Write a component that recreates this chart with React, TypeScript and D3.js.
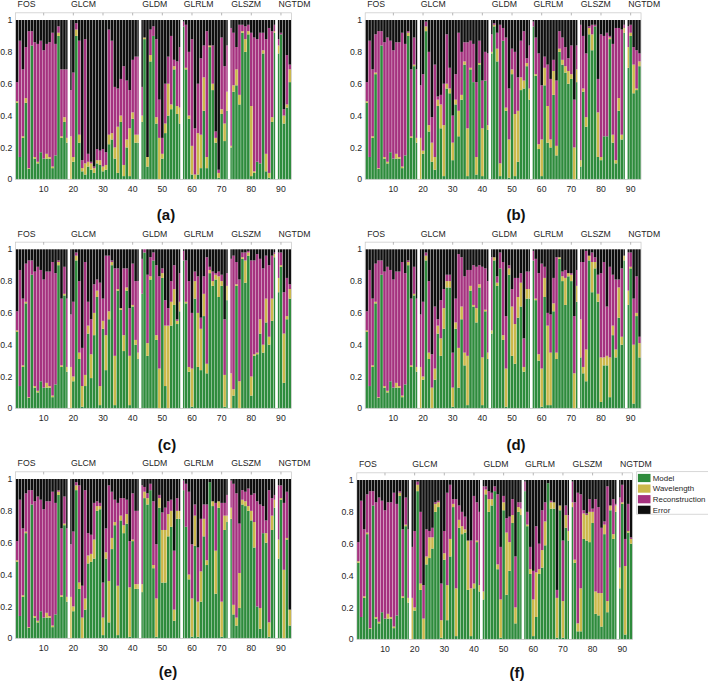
import React from 'react';
import * as d3 from 'd3';

// feature groups (radiomics classes) and their number of features
const GROUPS = ['FOS', 'GLCM', 'GLDM', 'GLRLM', 'GLSZM', 'NGTDM'];
const GROUP_SIZES = [18, 24, 14, 16, 16, 5];
const SERIES = ['Model', 'Wavelength', 'Reconstruction', 'Error'];
const COLORS = ['#2e8b3c', '#cbb84b', '#a5327f', '#0e0e0e'];
const X_TICKS = [10, 20, 30, 40, 50, 60, 70, 80, 90];
const Y_TICKS = [0, 0.2, 0.4, 0.6, 0.8, 1];

// ---- panel (a) ----
const aModel = [
  .48, .14, .26, .48, .065, .84, .13, .10, .17, .13, .13, .13, .07, .15, .90, .26, .36, .23,
  0, .11, .90, .23, .05, .03, .08, .06, .04, .10, .09, .05, .06, .22, .25, .13, .04, .36, .02, .20, .02, .38, .23, .23,
  .36, .88, .08, .74, .90, .35, 0, .13, .29, .40, .44, .69, .41, .35,
  .96, .69, .38, .03, 0, .03, .07, .43, .07, .83, .56, .23, .01, .41, .24, .43,
  .20, .55, .59, .47, .92, .80, .91, .02, .04, .11, .10, .79, .05, .01, .36, .92,
  .79, .91, .35, .45, .61,
];
const aWave = [
  .01, 0, .01, .03, .005, 0, .01, .01, 0, 0, .03, .01, .01, 0, .02, .01, .03, .03,
  .27, .03, .04, .05, .02, .07, .03, .04, .03, .02, .03, .03, .03, .06, .04, .07, .29, .04, .07, .05, .30, .04, .05, .05,
  .04, .01, .06, .04, 0, .04, .26, .03, .06, .20, .03, .02, .05, .10,
  0, .01, .02, .18, .03, .26, .21, .21, .07, .01, .04, .03, .03, .03, .11, .12,
  .01, .04, .10, .06, .01, .08, .02, .44, .01, 0, 0, .02, .11, .03, .03, .01,
  .05, 0, .05, .02, .08,
];
const aError = [
  .39, .13, .31, .17, .07, .07, .14, .15, .13, .19, .15, .14, .08, .15, .04, .31, .31, .31,
  .44, .33, .02, .13, .88, .12, .84, .89, .92, .81, .82, .81, .83, .06, .13, .42, .43, .37, .29, .38, .44, .25, .23, .23,
  .42, .11, .86, .06, .04, .12, .50, .74, .40, .23, .10, .25, .26, .17,
  .01, .03, .20, .12, .68, .40, .24, .16, .07, .16, .16, .70, .94, .11, .29, .16,
  .05, .08, .17, .03, .03, .04, .03, .08, .11, .12, .08, .08, .12, .05, .07, .03,
  .12, .08, .56, .22, .28,
];

// FOS block shared by panels (b)-(f)
const fosModel = [.48, .14, .26, .66, .065, .84, .13, .10, .17, .13, .13, .13, .07, .15, .90, .26, .71, .23];
const fosWave = [.01, 0, .01, .01, .005, 0, .01, .01, 0, 0, .03, .01, .01, 0, .02, .01, .01, .03];
const fosError = [.39, .13, .31, .09, .07, .07, .14, .11, .13, .19, .14, .14, .08, .15, .07, .31, .11, .31];

// ---- panel (b) ----
const bModel = [
  ...fosModel,
  0, .16, .93, .30, .11, .06, .46, .32, .02, .57, .54, .12, .47, .27, .50, .72, .02, .69, .61, .03, .72, .02, .62, .31,
  .79, .96, .74, .02, .87, .43, .01, .66, .02, .11, .56, .57, .71, .50,
  .96, .65, .19, .02, .59, .23, .20, .53, .15, .80, .72, .67, .60, .63, 0, .61,
  .08, .55, .33, .91, .81, .96, .14, .12, .27, .27, .88, .23, .10, .43, .25, .92,
  .70, .90, .54, .56, .71,
];
const bWave = [
  ...fosWave,
  .26, .02, .03, .04, .12, .08, .04, .15, .32, .03, .03, .11, .03, .16, .03, .02, .30, .01, 0, .11, .01, .30, 0, .03,
  .01, .01, .08, .08, 0, .02, .24, .03, .39, .32, .08, .05, .02, .07,
  0, .01, .03, .23, .11, .23, .05, .15, .06, .02, .03, .04, .08, .03, .20, .08,
  .04, .02, .06, .04, .10, 0, .28, .02, 0, 0, .01, .05, .02, .08, .03, .03,
  .13, .02, .18, .01, .03,
];
const bError = [
  ...fosError,
  .41, .34, .01, .20, .61, .28, .48, .47, .40, .09, .30, .60, .34, .08, .20, .14, .14, .13, .15, .39, .13, .38, .20, .21,
  .09, .02, .08, .03, .05, .11, .43, .18, .20, .36, .13, .07, .24, .16,
  .01, .11, .21, .41, .23, .28, .37, .25, .38, .07, .11, .17, .24, .16, .50, .16,
  .03, .10, .21, .04, .03, .03, .37, .09, .10, .08, .10, .15, .05, .05, .06, .03,
  .04, .03, .17, .19, .21,
];

// ---- panel (c) ----
const cModel = [
  ...fosModel,
  0, .17, .93, .31, .01, .14, .47, .19, .46, .70, .02, .50, .24, .56, .90, .02, .74, .62, .36, .74, .02, .64, .40, .31,
  .72, .98, .33, .81, .93, .43, 0, .82, .14, 0, .52, .65, .53, .61,
  .93, .66, .23, .01, .69, .26, .24, .58, .22, .85, .77, .81, .70, .77, .01, .68,
  0, .08, .77, 0, .94, .79, .96, .08, .33, .34, .47, .35, .54, .40, .55, .95,
  .73, .89, .16, .56, .69,
];
const cWave = [
  ...fosWave,
  .26, .03, .03, .04, .13, .07, .05, .15, .14, .04, .12, .05, .22, .05, .02, .31, .01, .01, .10, .02, .31, .01, .03, .04,
  0, 0, .08, .02, 0, .03, .25, .03, .38, .52, .15, .10, .02, .06,
  0, .01, .03, .24, .11, .34, .26, .14, .06, .02, .03, .03, .13, .03, .20, .09,
  .22, .04, .01, .17, .01, .14, .02, .12, .01, .01, .09, .05, .15, .05, .14, .02,
  .09, .01, .31, .02, .06,
];
const cError = [
  ...fosError,
  .41, .33, .02, .20, .62, .08, .33, .44, .22, .19, .21, .31, .04, .04, .07, .12, .12, .37, .12, .12, .37, .09, .20, .20,
  .06, 0, .16, .05, .02, .10, .17, .12, .32, .37, .20, .10, .44, .15,
  .01, .07, .20, .40, .14, .17, .43, .17, .05, .11, .14, .15, .14, .16, .44, .15,
  .06, .04, .08, .19, .02, .02, .01, .07, .07, .03, .06, .12, .04, .10, .04, .02,
  .02, .02, .27, .18, .22,
];

// ---- panel (d) ----
const dModel = [
  ...fosModel,
  0, .18, .93, .31, 0, .18, .47, .33, .50, .76, .76, .01, .50, .13, .56, .27, .02, .74, .64, .54, .76, .02, .61, .31,
  .47, .93, .77, .88, .43, .01, .84, .33, .28, .57, .64, .23, .69, .69,
  .93, .68, .30, .01, .70, .02, .02, .61, .31, .94, .80, .65, .83, .80, 0, .67,
  .32, .22, .17, .93, .73, .88, .67, .04, .27, .27, .07, .46, .32, .57, .40, .93,
  .65, .88, .03, .58, .32,
];
const dWave = [
  ...fosWave,
  .26, .02, .03, .04, .13, .07, .05, .11, .13, .04, .04, .12, .04, .25, .08, .08, .31, .03, .01, .09, .02, .30, .01, .04,
  .02, .02, .02, 0, .03, .24, .04, .31, .25, .13, .15, .03, .06, .06,
  0, .01, .04, .24, .12, .50, .33, .05, .04, .01, .03, .17, .02, .04, .22, .10,
  .24, .04, .20, .03, .19, .04, .05, .28, .05, .06, .25, .06, .05, .19, .05, .03,
  .09, .01, .37, .02, .09,
];
const dError = [
  ...fosError,
  .41, .33, .02, .20, .66, .36, .44, .32, .25, .16, .16, .65, .31, .03, .05, .17, .13, .13, .10, .11, .10, .11, .12, .20,
  .05, .05, .17, .02, .08, .42, .10, .25, .18, .18, .15, .56, .14, .14,
  .01, .06, .15, .09, .11, .40, .41, .18, .05, .05, .14, .13, .15, .15, .42, .13,
  .08, .08, .01, .04, .02, .05, .16, .15, .08, .36, .11, .16, .19, .19, .12, .04,
  .02, .02, .31, .17, .55,
];

// ---- panel (e) ----
const eModel = [
  ...fosModel,
  0, .17, .93, .31, 0, .18, .47, .48, .50, .80, .81, .02, .50, .10, .56, .71, .02, .74, .66, .72, .01, .61, .31, .31,
  .29, .88, .84, .93, .44, .01, .82, .35, .35, .64, .70, .11, .75, .75,
  .93, .70, .37, .01, .58, .01, .23, .64, .46, .98, .83, .28, .82, .01, .68, .73,
  .75, .15, .08, .19, .84, .83, .80, .74, .57, .20, .06, .66, .60, .01, .68, .82,
  .50, .87, 0, .62, .08,
];
const eWave = [
  ...fosWave,
  .26, .03, .03, .04, .13, .07, .05, .05, .12, .03, .02, .11, .04, .26, .07, .02, .31, .03, .05, .06, .31, .01, .03, .03,
  .05, .04, .04, 0, .02, .24, .06, .33, .33, .14, .10, .07, .05, .05,
  0, 0, .03, .24, .19, .22, .19, .11, .03, 0, .03, .27, .04, .22, .09, .04,
  .07, .06, .05, .22, .03, .03, .03, .06, .16, 0, .13, 0, .06, .09, .09, .05,
  .12, .01, .43, .01, .10,
];
const eError = [
  ...fosError,
  .41, .33, .02, .04, .67, .07, .34, .35, .15, .14, .15, .65, .31, .04, .08, .13, .15, .12, .12, .13, .39, .09, .20, .20,
  .04, .05, .09, .03, .14, .41, .10, .21, .18, .14, .13, .45, .12, .20,
  .01, .03, .08, .41, .16, .43, .25, .16, .16, .02, .14, .15, .14, .15, .15, .10,
  .01, .03, .09, .28, .07, .08, .06, .10, .09, .14, .16, .17, .26, .07, .12, .10,
  .04, .04, .15, .08, .82,
];

// ---- panel (f) ----
const fModel = [
  ...fosModel,
  0, .18, .93, .31, 0, .47, .51, .57, .80, .83, .01, .50, .12, .52, .83, .02, .70, .66, .67, .31, .02, .32, .61, .30,
  .25, .91, .80, .84, .93, .44, .01, .81, .28, .43, .73, .10, .80, .78,
  .93, .71, .41, .02, .14, .41, .45, .59, .98, .82, .82, .01, .81, .01, .70, .62,
  .83, .48, .05, .05, .63, .62, .61, .73, .16, .15, .08, .66, .17, .81, .63, .80,
  .32, .85, .03, .67, .60,
];
const fWave = [
  ...fosWave,
  .26, .02, .04, .04, .13, .05, .13, .07, .05, .03, .11, .04, .22, .11, .02, .30, .05, .05, .02, .31, .30, .03, .01, .04,
  .05, .03, .08, .04, 0, .03, .24, .05, .39, .18, .05, .10, .03, .04,
  0, .01, .03, .23, .28, .03, .11, .15, 0, .04, .04, .25, .03, .23, .08, .06,
  .03, .02, .05, .27, .16, .16, .19, .07, .14, .14, .21, .06, .07, .03, .03, .04,
  .13, .01, .43, .01, .03,
];
const fError = [
  ...fosError,
  .42, .32, .01, .20, .66, .31, .32, .30, .14, .13, .65, .32, .08, .03, .12, .12, .16, .20, .23, .38, .38, .10, .14, .20,
  .04, .04, .07, .08, .04, .09, .42, .10, .24, .23, .12, .48, .14, .14,
  .01, .20, .42, .57, .29, .40, .19, .14, .02, .13, .14, .69, .16, .38, .16, .22,
  .01, .14, .08, .09, .19, .21, .12, .18, .12, .17, .30, .26, .04, .16, .12, .15,
  .11, .03, .37, .15, .36,
];

const UNIT = 2.966; // px per feature
const FONT = '"Liberation Sans", Arial, Helvetica, sans-serif';

const PANELS = [
  { tag: '(a)', model: aModel, wave: aWave, error: aError, left: 15.5, top: 20, bottom: 179.3, labelX: 166, labelY: 219.5 },
  { tag: '(b)', model: bModel, wave: bWave, error: bError, left: 365.2, top: 20, bottom: 179.3, labelX: 516, labelY: 219.5 },
  { tag: '(c)', model: cModel, wave: cWave, error: cError, left: 15.5, top: 249.3, bottom: 408.3, labelX: 167, labelY: 449.5 },
  { tag: '(d)', model: dModel, wave: dWave, error: dError, left: 365.2, top: 249.3, bottom: 408.3, labelX: 516, labelY: 449.5 },
  { tag: '(e)', model: eModel, wave: eWave, error: eError, left: 15.5, top: 479, bottom: 638.3, labelX: 168, labelY: 677 },
  { tag: '(f)', model: fModel, wave: fWave, error: fError, left: 356.8, top: 480, bottom: 639.3, labelX: 517, labelY: 677.5 },
];

type Row = { idx: number; Model: number; Wavelength: number; Reconstruction: number; Error: number };

function Panel({ p }: { p: typeof PANELS[number] }) {
  const n = p.model.length;
  const x = d3.scaleLinear().domain([0.5, n + 0.5]).range([p.left, p.left + n * UNIT]);
  const y = d3.scaleLinear().domain([0, 1]).range([p.bottom, p.top]);
  const rows: Row[] = p.model.map((m, i) => ({
    idx: i + 1,
    Model: m,
    Wavelength: p.wave[i],
    Reconstruction: Math.max(0, 1 - m - p.wave[i] - p.error[i]),
    Error: p.error[i],
  }));
  const stacked = d3.stack<Row>().keys(SERIES)(rows);
  const bw = UNIT * 0.86;

  // group start indices and separators
  const starts: number[] = [];
  let acc = 0;
  GROUP_SIZES.forEach(s => { starts.push(acc + 1); acc += s; });
  const seps = starts.slice(1).map(s => s - 0.5);

  const boxTop = y(1.045);
  const x0 = x(0.5), x1 = x(n + 0.5);

  return (
    <g>
      {stacked.map((layer, li) => (
        <g key={layer.key} fill={COLORS[li]}>
          {layer.map((d, i) => (
            <rect key={i} x={x(d.data.idx) - bw / 2} width={bw}
              y={y(d[1])} height={Math.max(0, y(d[0]) - y(d[1]))} />
          ))}
        </g>
      ))}
      {seps.map(s => (
        <rect key={s} x={x(s) - 1.35} width={2.7} y={y(1) - 0.5} height={y(0) - y(1) + 0.5} fill="#fff" />
      ))}
      <rect x={x0} y={boxTop} width={x1 - x0} height={y(0) - boxTop} fill="none" stroke="#c6c6c6" strokeWidth={0.7} />
      {X_TICKS.map(t => (
        <g key={t}>
          <line x1={x(t)} x2={x(t)} y1={boxTop} y2={boxTop + 2.6} stroke="#8a8a8a" strokeWidth={0.6} />
          <text x={x(t)} y={y(0) + 12.4} textAnchor="middle" fontSize={8.7} fill="#262626" fontFamily={FONT}>{t}</text>
        </g>
      ))}
      {Y_TICKS.map(t => (
        <text key={t} x={x0 - 3.2} y={y(t) + 3.1} textAnchor="end" fontSize={8.7} fill="#262626" fontFamily={FONT}>{d3.format('~g')(t)}</text>
      ))}
      {GROUPS.map((g, gi) => (
        <text key={g} x={x(starts[gi]) + 0.6} y={y(1) - 12.7} fontSize={8.7} fill="#262626" fontFamily={FONT}>{g}</text>
      ))}
      <text x={p.labelX} y={p.labelY} textAnchor="middle" fontSize={15} fontWeight="bold" fill="#111" fontFamily={FONT}>{p.tag}</text>
    </g>
  );
}

function Legend() {
  const lx = 636.7, ly = 471.7, rowH = 10.6;
  return (
    <g>
      <rect x={lx} y={ly} width={80} height={42.5} fill="#fff" stroke="#c6c6c6" strokeWidth={0.7} />
      {SERIES.map((s, i) => (
        <g key={s}>
          <rect x={lx + 1.2} y={ly + 2.2 + i * rowH} width={12.6} height={8.2} fill={COLORS[i]} />
          <text x={lx + 16.1} y={ly + 9.1 + i * rowH} fontSize={7.9} fill="#262626" fontFamily={FONT}>{s}</text>
        </g>
      ))}
    </g>
  );
}

export default function App() {
  return (
    <svg width={708} height={681} style={{ position: 'absolute', left: 0, top: 0, background: '#fff' }}>
      {PANELS.map(p => <Panel key={p.tag} p={p} />)}
      <Legend />
    </svg>
  );
}
